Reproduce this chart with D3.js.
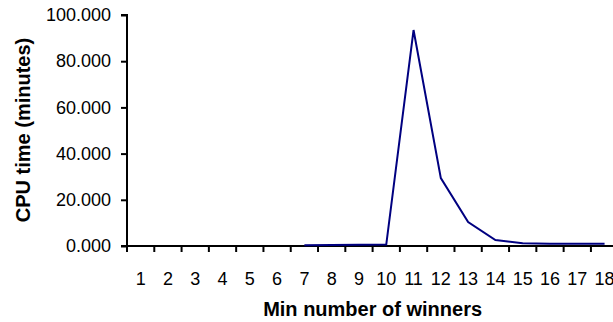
<!DOCTYPE html>
<html>
<head>
<meta charset="utf-8">
<script src="https://cdn.jsdelivr.net/npm/d3@7"></script>
<style>
  html, body { margin: 0; padding: 0; background: #fff; }
  svg { display: block; font-family: "Liberation Sans", Arial, sans-serif; }
</style>
</head>
<body>
<svg id="chart" width="613" height="322"></svg>
<script>
const categories = ["1","2","3","4","5","6","7","8","9","10","11","12","13","14","15","16","17","18"];
const cpuMinutes = [null, null, null, null, null, null, 0.3, 0.4, 0.5, 0.6, 93.5, 29.4, 10.4, 2.6, 1.2, 1.0, 1.0, 1.0];
const yTicks = [0, 20, 40, 60, 80, 100];
const xTitle = "Min number of winners";
const yTitle = "CPU time (minutes)";

const svg = d3.select("#chart");
const mLeft = 127, mTop = 15, mBottom = 246;
const bandW = 27.29;
const mRight = mLeft + bandW * categories.length;

const x = d3.scaleBand().domain(categories).range([mLeft, mRight]).paddingInner(0).paddingOuter(0);
const y = d3.scaleLinear().domain([0, 100]).range([mBottom, mTop]);

// Y axis
const yAxis = d3.axisLeft(y).tickValues(yTicks).tickSize(6).tickPadding(10)
  .tickFormat(d3.format(".3f"));
const gy = svg.append("g").attr("transform", `translate(${mLeft},0)`).call(yAxis);
gy.select(".domain").attr("stroke", "#000").attr("stroke-width", 2).attr("d", `M-6,${mTop}H0V${mBottom}`);
gy.selectAll(".tick line").attr("stroke", "#000").attr("stroke-width", 2);
gy.selectAll(".tick text").attr("font-size", 18).attr("fill", "#000")
  .attr("font-family", "'Liberation Sans', Arial, sans-serif");

// X axis: ticks at category boundaries
const xAxisG = svg.append("g");
xAxisG.append("line").attr("x1", mLeft - 6).attr("x2", mRight).attr("y1", mBottom).attr("y2", mBottom)
  .attr("stroke", "#000").attr("stroke-width", 2);
const boundaries = categories.map(c => x(c)).concat([mRight]);
xAxisG.selectAll("line.xt").data(boundaries).enter().append("line").attr("class", "xt")
  .attr("x1", d => d).attr("x2", d => d).attr("y1", mBottom).attr("y2", mBottom + 6)
  .attr("stroke", "#000").attr("stroke-width", 2);
xAxisG.selectAll("text").data(categories).enter().append("text")
  .attr("x", d => x(d) + x.bandwidth() / 2).attr("y", 285)
  .attr("text-anchor", "middle").attr("font-size", 18).attr("fill", "#000")
  .text(d => d);

// Line
const line = d3.line()
  .defined(d => d.v !== null)
  .x(d => x(d.c) + x.bandwidth() / 2)
  .y(d => y(d.v));
const data = categories.map((c, i) => ({ c, v: cpuMinutes[i] }));
svg.append("path").datum(data).attr("d", line)
  .attr("fill", "none").attr("stroke", "#000080").attr("stroke-width", 2)
  .attr("stroke-linejoin", "miter");

// Titles
svg.append("text").attr("x", (mLeft + mRight) / 2).attr("y", 316)
  .attr("text-anchor", "middle").attr("font-size", 20).attr("font-weight", "bold")
  .text(xTitle);
svg.append("text").attr("transform", `translate(29.5,130) rotate(-90)`)
  .attr("text-anchor", "middle").attr("font-size", 20).attr("font-weight", "bold")
  .text(yTitle);
</script>
</body>
</html>
